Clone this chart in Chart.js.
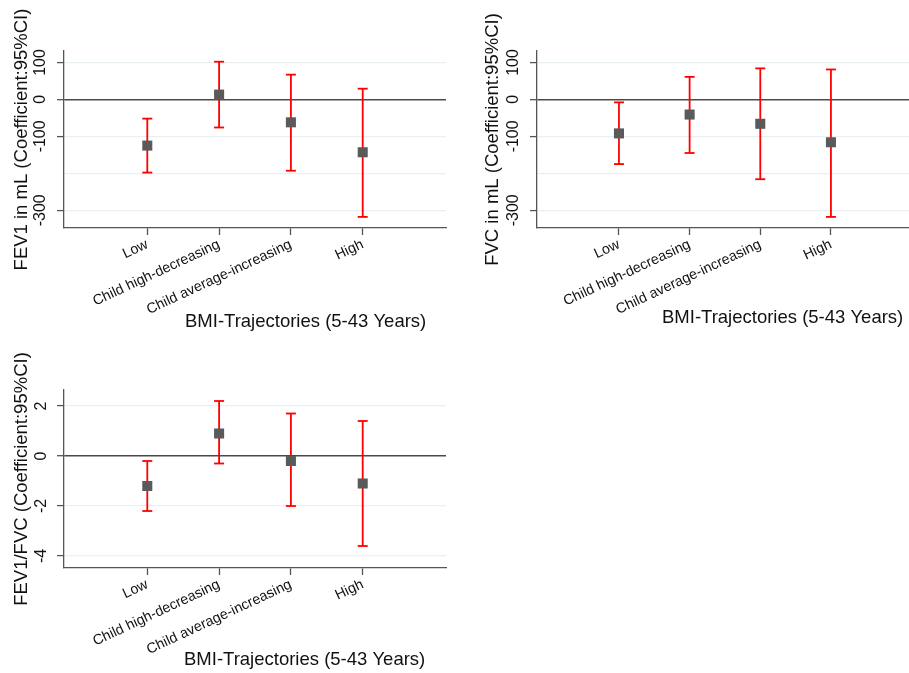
<!DOCTYPE html>
<html><head><meta charset="utf-8">
<script src="https://cdn.jsdelivr.net/npm/chart.js@4.4.1/dist/chart.umd.min.js"></script>
<style>
html,body{margin:0;padding:0;background:#fff;overflow:hidden;width:909px;height:673px;}
canvas{position:absolute;}
</style></head><body>
<canvas id="c1" width="460" height="340" style="left:0;top:0"></canvas>
<canvas id="c2" width="460" height="340" style="left:460px;top:0"></canvas>
<canvas id="c3" width="460" height="333" style="left:0;top:340px"></canvas>
<script>
// ---- data ----
const categories = ['Low', 'Child high-decreasing', 'Child average-increasing', 'High'];
const categoryPositions = [1, 2, 3, 4];

const fev1Coef  = [-125, 13, -62, -143];
const fev1Lower = [-198, -76, -193, -318];
const fev1Upper = [-52, 102, 67, 29];

const fvcCoef  = [-92, -41, -66, -116];
const fvcLower = [-175, -145, -216, -318];
const fvcUpper = [-8, 61, 84, 81];

const ratioCoef  = [-1.2, 0.9, -0.2, -1.1];
const ratioLower = [-2.2, -0.3, -2.0, -3.6];
const ratioUpper = [-0.2, 2.2, 1.7, 1.4];

const yTicksMl = [100, 0, -100, -200, -300];
const yTickLabelsMl = ['100', '0', '-100', '', '-300'];
const yTicksRatio = [2, 0, -2, -4];
const yTickLabelsRatio = ['2', '0', '-2', '-4'];

const xTitle = 'BMI-Trajectories (5-43 Years)';
const yTitleFev1 = 'FEV1 in mL (Coefficient:95%CI)';
const yTitleFvc = 'FVC in mL (Coefficient:95%CI)';
const yTitleRatio = 'FEV1/FVC (Coefficient:95%CI)';

// ---- drawing ----
const FONT = "'Liberation Sans', Arial, Helvetica, sans-serif";
const TEXT = '#111111';
const AXIS = '#555555';
const TITLE_SIZE = 18.5;

const xTitlePlugin = {
  id: 'xTitlePlugin',
  afterDraw(chart, args, opts) {
    const ctx = chart.ctx, ca = chart.chartArea;
    ctx.save();
    ctx.font = TITLE_SIZE + 'px ' + FONT;
    ctx.fillStyle = TEXT;
    ctx.textAlign = 'left';
    ctx.textBaseline = 'middle';
    ctx.fillText(opts.text, ca.left + opts.dx, opts.y);
    ctx.restore();
  }
};

function makeChart(id, cfg) {
  const ebData = [];
  cfg.lower.forEach((lo, i) => {
    ebData.push({x: categoryPositions[i], y: lo});
    ebData.push({x: categoryPositions[i], y: cfg.upper[i]});
    ebData.push({x: categoryPositions[i], y: null});
  });
  const ptData = cfg.coef.map((v, i) => ({x: categoryPositions[i], y: v}));
  return new Chart(document.getElementById(id), {
    type: 'line',
    data: {
      datasets: [
        {
          data: ptData, showLine: false, order: 0,
          pointStyle: 'rect', pointRadius: 7.1, pointHoverRadius: 7.1,
          pointBackgroundColor: '#5a5a5a', pointBorderWidth: 0, borderWidth: 0
        },
        {
          data: ebData, order: 1, spanGaps: false,
          borderColor: '#ff0000', borderWidth: 1.8,
          pointStyle: 'line', pointRadius: 5, pointHoverRadius: 5,
          pointBorderColor: '#ff0000', pointBorderWidth: 1.8
        }
      ]
    },
    options: {
      responsive: false, animation: false, devicePixelRatio: 1,
      layout: {padding: {top: cfg.padTop, right: cfg.padRight, left: 0, bottom: 0}},
      plugins: {legend: {display: false}, tooltip: {enabled: false},
        xTitlePlugin: {text: xTitle, dx: cfg.xTitleDx, y: cfg.xTitleY}},
      scales: {
        x: {
          type: 'linear', min: -0.16, max: 5.16,
          afterBuildTicks: s => { s.ticks = categoryPositions.map(v => ({value: v})); },
          afterFit: s => { s.height = cfg.xHeight; },
          ticks: {
            autoSkip: false, minRotation: 25, maxRotation: 25, padding: 1,
            font: {family: FONT, size: 14.3}, color: TEXT,
            callback: v => categories[categoryPositions.indexOf(v)]
          },
          grid: {drawOnChartArea: false, drawTicks: true, tickLength: 7, tickColor: AXIS, tickWidth: 1.3},
          border: {display: true, color: AXIS, width: 1.3}
        },
        y: {
          type: 'linear', min: cfg.yMin, max: cfg.yMax,
          afterBuildTicks: s => { s.ticks = cfg.yTicks.map(v => ({value: v})); },
          afterFit: s => { s.width = cfg.yWidth; },
          ticks: {
            minRotation: 90, maxRotation: 90, crossAlign: 'center', padding: cfg.yTickPad,
            font: {family: FONT, size: 16}, color: TEXT,
            callback: v => cfg.yTickLabels[cfg.yTicks.indexOf(v)]
          },
          grid: {
            drawTicks: true, tickLength: 7, tickWidth: 1.3,
            color: c => (c.tick && c.tick.value === 0) ? '#4a4a4a' : '#e9f0f1',
            lineWidth: c => (c.tick && c.tick.value === 0) ? 1.4 : 1.2,
            tickColor: c => (c.tick && cfg.yTickLabels[cfg.yTicks.indexOf(c.tick.value)] === '') ? 'rgba(0,0,0,0)' : AXIS
          },
          border: {display: true, color: AXIS, width: 1.3},
          title: {display: true, text: cfg.yTitle, color: TEXT,
            font: {family: FONT, size: TITLE_SIZE}, padding: {top: cfg.yTitlePad, bottom: 0}}
        }
      }
    },
    plugins: [xTitlePlugin]
  });
}

makeChart('c1', {
  coef: fev1Coef, lower: fev1Lower, upper: fev1Upper,
  yMin: -348, yMax: 131, yTicks: yTicksMl, yTickLabels: yTickLabelsMl,
  yTitle: yTitleFev1, padTop: 51, padRight: 14, yWidth: 64, xHeight: 112,
  yTickPad: 0, yTitlePad: 11, xTitleDx: 121, xTitleY: 322
});
makeChart('c2', {
  coef: fvcCoef, lower: fvcLower, upper: fvcUpper,
  yMin: -348, yMax: 131, yTicks: yTicksMl, yTickLabels: yTickLabelsMl,
  yTitle: yTitleFvc, padTop: 51, padRight: 1, yWidth: 77, xHeight: 112,
  yTickPad: 0, yTitlePad: 22, xTitleDx: 125, xTitleY: 318
});
makeChart('c3', {
  coef: ratioCoef, lower: ratioLower, upper: ratioUpper,
  yMin: -4.48, yMax: 2.64, yTicks: yTicksRatio, yTickLabels: yTickLabelsRatio,
  yTitle: yTitleRatio, padTop: 50, padRight: 14, yWidth: 64, xHeight: 105,
  yTickPad: 8, yTitlePad: 11, xTitleDx: 120, xTitleY: 320
});
</script>
</body></html>
